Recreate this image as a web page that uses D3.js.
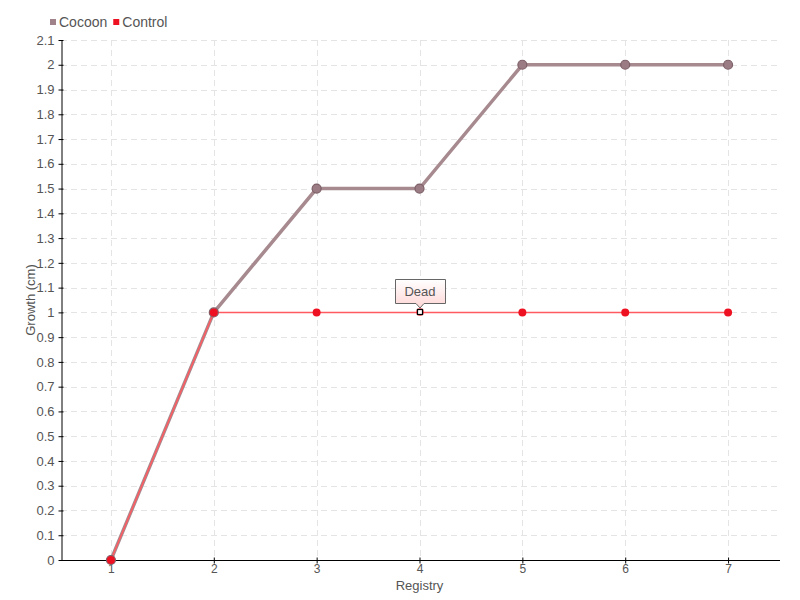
<!DOCTYPE html>
<html><head><meta charset="utf-8">
<script src="https://cdn.jsdelivr.net/npm/d3@7"></script>
<style>
body{margin:0;background:#fff;}
text{font-family:"Liberation Sans",Arial,sans-serif;fill:#555;}
</style></head><body>
<svg id="c" width="800" height="600"></svg>
<script>
const categories = [1,2,3,4,5,6,7];
const cocoon = [0,1,1.5,1.5,2,2,2];
const control = [0,1,1,1,1,1,1];
const yTicks = d3.range(0,22).map(i=>i/10);
const seriesNames = ["Cocoon","Control"];
const annotation = {x:4, y:1, label:"Dead"};

(function(){
const svg = d3.select("#c");
const mL=61, mR=780, mT=40, mB=560;
const x = d3.scaleLinear().domain([0.5,7.5]).range([mL-1.5,mR-0.5]);
const y = d3.scaleLinear().domain([0,2.1]).range([mB,mT]);

// grid
const g = svg.append("g");
g.selectAll(".hg").data(yTicks.slice(1)).enter().append("line")
 .attr("x1",mL).attr("x2",mR).attr("y1",d=>Math.round(y(d))+0.5).attr("y2",d=>Math.round(y(d))+0.5)
 .attr("stroke","#e4e4e4").attr("stroke-dasharray","6,4");
g.selectAll(".vg").data(categories).enter().append("line")
 .attr("y1",mT).attr("y2",mB).attr("x1",d=>Math.round(x(d))+0.5).attr("x2",d=>Math.round(x(d))+0.5)
 .attr("stroke","#e4e4e4").attr("stroke-dasharray","6,4");

// axes
const yAxis = d3.axisLeft(y).tickValues(yTicks).tickFormat(d=>d3.format("~g")(d)).tickSizeInner(4).tickSizeOuter(0).tickPadding(3);
const ya = svg.append("g").attr("transform",`translate(${mL+0.5},0)`).call(yAxis);
ya.select(".domain").attr("stroke","#000");
ya.selectAll(".tick line").attr("stroke","#000").attr("x1",2).attr("x2",-3);
ya.selectAll("text").style("font-size","13px").attr("fill","#555");

const xAxis = d3.axisBottom(x).tickValues(categories).tickFormat(d3.format("d")).tickSizeInner(3).tickSizeOuter(0).tickPadding(1);
const xa = svg.append("g").attr("transform",`translate(0,${mB+0.5})`).call(xAxis);
xa.select(".domain").attr("stroke","#000").attr("d",`M${mL},0H${mR}`);
xa.selectAll(".tick line").attr("stroke","#000").attr("y1",-3).attr("y2",3);
xa.selectAll("text").style("font-size","12px").attr("fill","#555");

// axis titles
svg.append("text").attr("x",x(4)).attr("y",590).attr("text-anchor","middle").style("font-size","13px").text("Registry");
svg.append("text").attr("transform",`translate(35,${(mT+mB)/2}) rotate(-90)`).attr("text-anchor","middle").style("font-size","13px").text("Growth (cm)");

// lines
const line = (arr)=>d3.line().x((d,i)=>x(categories[i])).y(d=>y(d))(arr);
svg.append("path").attr("d",line(cocoon)).attr("fill","none").attr("stroke","#a78a8f").attr("stroke-width",3.5);
svg.append("path").attr("d",line(control)).attr("fill","none").attr("stroke","#ff5a5f").attr("stroke-width",1.5);

svg.selectAll(".cp").data(cocoon).enter().append("circle")
 .attr("cx",(d,i)=>x(categories[i])).attr("cy",d=>y(d)).attr("r",4.5)
 .attr("fill","#9c7c84").attr("stroke","#7d6068").attr("stroke-width",1.2);
const ctrlPts = control.map((v,i)=>({c:categories[i],v})).filter(p=>p.c!==annotation.x);
svg.selectAll(".rp").data(ctrlPts).enter().append("circle")
 .attr("cx",p=>x(p.c)).attr("cy",p=>y(p.v)).attr("r",4)
 .attr("fill","#ee1122");

// annotation point
const ax = Math.round(x(annotation.x)), ay = Math.round(y(annotation.y));
svg.append("circle").attr("cx",ax).attr("cy",ay).attr("r",4).attr("fill","#ee1122").attr("opacity",0.6);
svg.append("rect").attr("x",ax-2.5).attr("y",ay-2.5).attr("width",5).attr("height",5).attr("fill","#fff").attr("stroke","#000").attr("stroke-width",1.2);

// tooltip
const defs = svg.append("defs");
const grad = defs.append("linearGradient").attr("id","tg").attr("x1",0).attr("y1",0).attr("x2",0).attr("y2",1);
grad.append("stop").attr("offset","0%").attr("stop-color","#ffffff");
grad.append("stop").attr("offset","100%").attr("stop-color","#ffd6d6");
const bx=ax-25, by=279, bw=50, bh=24;
svg.append("path").attr("d",`M${bx+0.5},${by+0.5}H${bx+bw+0.5}V${by+bh+0.5}H${ax+4}L${ax},${by+bh+5}L${ax-4},${by+bh+0.5}H${bx+0.5}Z`)
 .attr("fill","url(#tg)").attr("stroke","#666").attr("stroke-width",1);
svg.append("text").attr("x",ax).attr("y",by+16.5).attr("text-anchor","middle").style("font-size","13px").attr("fill","#555").text(annotation.label);

// legend
const legColors = ["#a0828a","#ee1122"];
const lg = svg.append("g");
let lx = 50;
seriesNames.forEach((n,i)=>{
  lg.append("rect").attr("x",lx).attr("y",19).attr("width",6).attr("height",6).attr("fill",legColors[i]);
  const t = lg.append("text").attr("x",lx+9).attr("y",27).style("font-size","14px").attr("fill","#555").text(n);
  lx += 9 + t.node().getComputedTextLength() + 6;
});
})();
</script>
</body></html>
